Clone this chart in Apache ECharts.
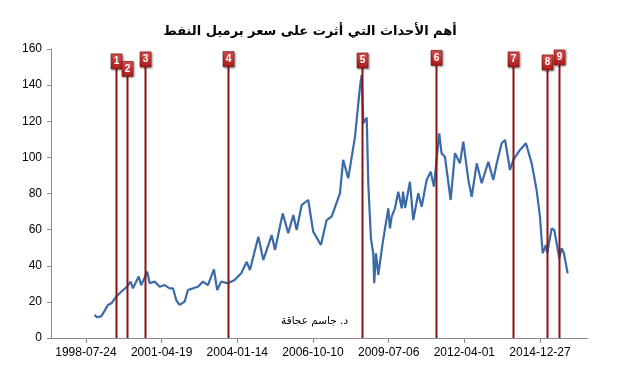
<!DOCTYPE html>
<html>
<head>
<meta charset="utf-8">
<script src="https://cdn.jsdelivr.net/npm/echarts@6/dist/echarts.min.js"></script>
<style>html,body{margin:0;padding:0;background:#fff}#c{width:620px;height:373px}</style>
</head>
<body>
<div id="c"></div>
<script>
const chartTitle = 'أهم الأحداث التي أثرت على سعر برميل النفط';
const creditText = 'د. جاسم عجاقة';

const dates = [
 '1998-11-15','1998-12-15','1999-02-10','1999-03-27','1999-05-10','1999-06-25','1999-08-28','1999-11-02',
 '2000-01-16','2000-03-05','2000-04-05','2000-06-20','2000-07-24','2000-10-11','2000-11-12',
 '2001-01-17','2001-03-24','2001-05-28','2001-08-03','2001-09-16','2001-10-29','2001-12-13',
 '2002-02-17','2002-04-01','2002-06-07','2002-08-12','2002-10-17','2002-12-22',
 '2003-03-11','2003-04-23','2003-06-15','2003-09-12','2003-12-09',
 '2004-03-06','2004-05-17','2004-06-29','2004-10-18','2004-12-23',
 '2005-04-12','2005-05-26','2005-09-05','2005-11-17',
 '2006-01-23','2006-03-08','2006-05-13','2006-08-08','2006-10-13',
 '2007-01-23','2007-04-08','2007-06-13','2007-10-01','2007-11-13',
 '2008-01-19','2008-04-17','2008-06-22','2008-07-14','2008-08-05','2008-09-19','2008-10-10','2008-11-14','2008-12-14','2008-12-27',
 '2009-01-19','2009-02-19','2009-04-17','2009-07-01','2009-07-23','2009-08-15','2009-09-27','2009-11-10','2009-12-25','2010-01-12','2010-02-08',
 '2010-04-13','2010-05-27','2010-08-01','2010-09-15','2010-11-20',
 '2011-01-12','2011-02-24','2011-05-05','2011-06-05','2011-07-19','2011-10-03','2011-11-29',
 '2012-02-03','2012-03-18','2012-05-24','2012-07-07','2012-09-12','2012-11-16',
 '2013-02-12','2013-04-19','2013-06-03','2013-08-08','2013-09-21','2013-11-25',
 '2014-01-08','2014-04-06','2014-06-24','2014-09-08','2014-11-12','2014-12-26',
 '2015-01-31','2015-03-15','2015-04-01','2015-05-30','2015-07-03','2015-08-12','2015-09-07','2015-10-09','2015-11-08','2015-12-27'
];
const prices = [
 12.8,11.5,12.0,15.0,18.3,19.2,22.9,25.6,
 28.4,31.2,27.5,34.0,29.3,36.7,30.3,
 31.2,28.4,29.3,27.5,27.5,21.0,18.3,
 20.1,26.6,27.5,28.4,31.2,29.3,
 38.0,26.6,31.2,30.3,32.1,
 35.8,42.2,37.6,56.1,43.2,
 57.0,48.7,69.0,58.0,
 68.1,59.8,73.6,76.4,58.9,
 51.5,65.3,67.2,80.1,98.6,
 88.4,111.5,139.0,145.6,118.9,122.0,85.0,55.0,46.9,30.3,
 46.9,34.9,52.4,71.8,60.7,67.2,71.8,81.0,71.8,81.0,72.0,
 86.5,65.3,80.1,72.7,87.5,
 92.1,83.8,113.3,102.3,100.4,76.4,102.3,
 96.7,108.7,87.5,78.2,96.7,85.7,
 97.6,87.5,96.7,107.8,109.6,93.0,
 98.6,104.1,107.8,96.7,81.9,67.2,
 46.9,51.5,47.0,60.7,59.8,50.6,44.1,49.7,46.9,35.8
];
const tickLabels = ['1998-07-24','2001-04-19','2004-01-14','2006-10-10','2009-07-06','2012-04-01','2014-12-27'];
const axisStartDate = '1997-04-18';
const axisEndDate = '2016-09-21';
const eventLabels = ['1','2','3','4','5','6','7','8','9'];
const eventDates = ['1999-08-28','2000-01-13','2000-09-17','2003-09-08','2008-07-21','2011-03-20','2014-01-07','2015-03-27','2015-09-04'];
const flagLevels = [157.3,153.1,158.4,158.6,157.8,159.2,158.4,156.7,159.5];

const toMs = s => Date.parse(s + 'T00:00:00Z');
const pad = n => (n < 10 ? '0' : '') + n;
const fmt = v => { const d = new Date(v); return d.getUTCFullYear() + '-' + pad(d.getUTCMonth() + 1) + '-' + pad(d.getUTCDate()); };

const chart = echarts.init(document.getElementById('c'), null, { renderer: 'canvas' });
const tickMs = tickLabels.map(toMs);

chart.setOption({
  animation: false,
  backgroundColor: '#fff',
  title: {
    text: chartTitle, left: 'center', top: 20,
    textStyle: { fontSize: 13, fontWeight: 'bold', color: '#000', fontFamily: 'DejaVu Sans' }
  },
  grid: { left: 51, right: 32, top: 49, bottom: 35, containLabel: false },
  xAxis: {
    type: 'value', min: toMs(axisStartDate), max: toMs(axisEndDate),
    splitLine: { show: false },
    axisLine: { show: true, lineStyle: { color: '#8c8c8c', width: 1 } },
    axisTick: { show: true, length: 5, lineStyle: { color: '#8c8c8c' }, customValues: tickMs },
    axisLabel: { customValues: tickMs, formatter: v => fmt(v), color: '#000', fontSize: 12, fontFamily: 'Liberation Sans', margin: 9 }
  },
  yAxis: {
    type: 'value', min: 0, max: 160, interval: 20,
    splitLine: { show: false },
    axisLine: { show: true, lineStyle: { color: '#8c8c8c', width: 1 } },
    axisTick: { show: true, length: 4, lineStyle: { color: '#8c8c8c' } },
    axisLabel: { color: '#000', fontSize: 12, fontFamily: 'Liberation Sans', margin: 9 }
  },
  graphic: [{
    type: 'text', left: 281, top: 316,
    style: { text: creditText, fontSize: 10.5, fill: '#000', fontFamily: 'DejaVu Sans' }
  }],
  series: [
    {
      type: 'line', data: dates.map((d, i) => [toMs(d), prices[i]]),
      showSymbol: false, symbol: 'none', smooth: false,
      lineStyle: { color: '#3b6aa8', width: 2.2 }, z: 2
    },
    {
      type: 'custom', z: 5, clip: false,
      data: eventDates.map((d, i) => [toMs(d), flagLevels[i]]),
      renderItem: (params, api) => {
        const base = api.coord([api.value(0), 0]);
        const top = api.coord([api.value(0), api.value(1)]);
        const x = Math.round(base[0]) + 0.5;
        const w = 11, h = 15;
        return {
          type: 'group',
          children: [
            { type: 'line', shape: { x1: x, y1: base[1], x2: x, y2: top[1] + h }, style: { stroke: '#8b1212', lineWidth: 2 } },
            { type: 'rect', shape: { x: x - w / 2, y: top[1], width: w, height: h },
              style: {
                fill: new echarts.graphic.LinearGradient(0, 0, 0, 1, [{ offset: 0, color: '#e25656' }, { offset: 1, color: '#a81a1a' }]),
                stroke: '#7a1010', lineWidth: 0.6,
                shadowBlur: 2, shadowColor: 'rgba(0,0,0,0.45)', shadowOffsetX: 1, shadowOffsetY: 1
              } },
            { type: 'text', style: { text: eventLabels[params.dataIndex], x: x, y: top[1] + h / 2, align: 'center', verticalAlign: 'middle',
              fill: '#fff', fontSize: 10, fontWeight: 'bold', fontFamily: 'Liberation Sans' } }
          ]
        };
      }
    }
  ]
});
</script>
</body>
</html>
